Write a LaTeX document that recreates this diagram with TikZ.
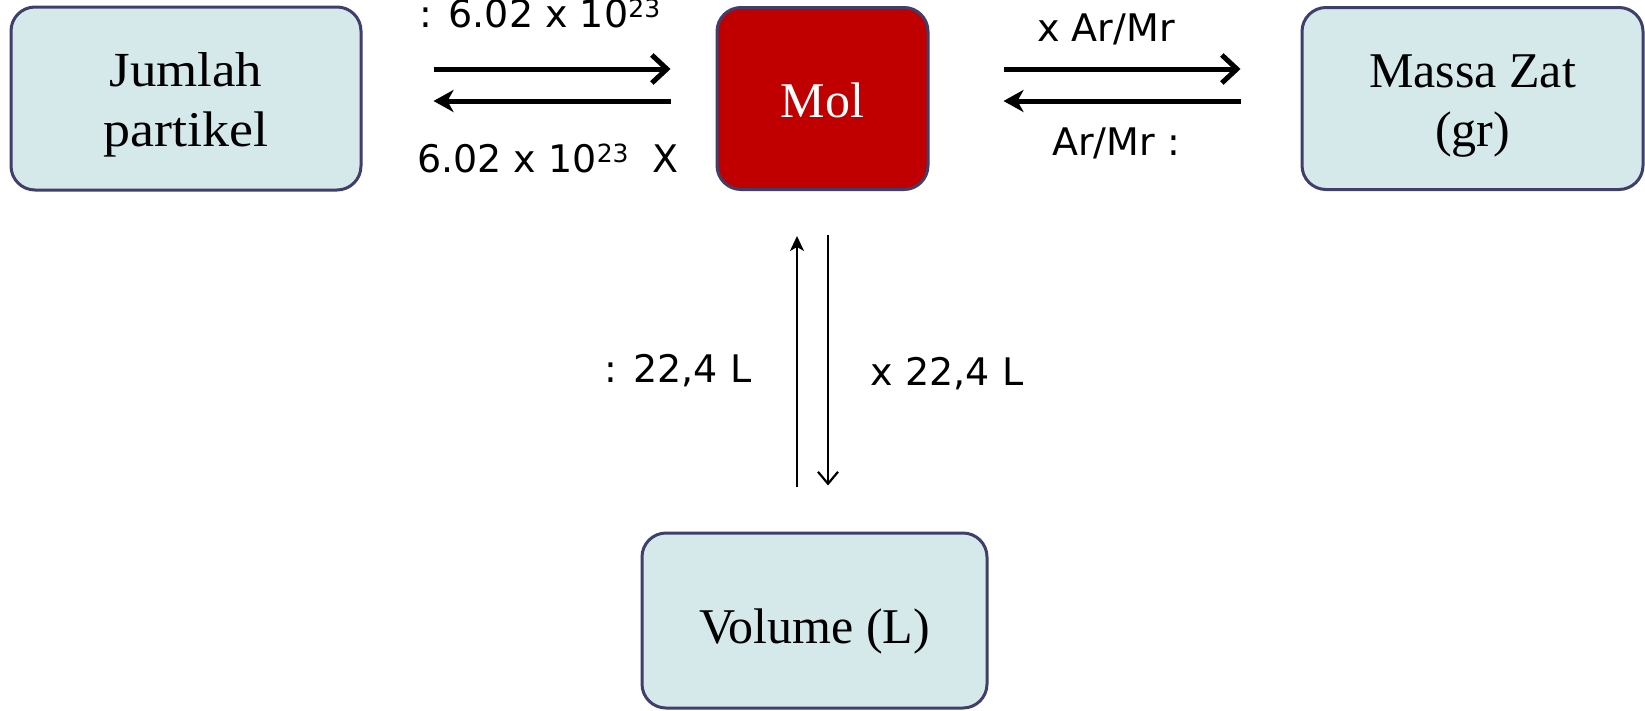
\documentclass[tikz,border=0pt]{standalone}
\usepackage{fontspec}
\setmainfont{Liberation Serif}
\newfontfamily\lblfont{DejaVu Sans}
\usetikzlibrary{arrows.meta}
\definecolor{boxfill}{HTML}{D5E8EA}
\definecolor{boxline}{HTML}{3F3F6B}
\definecolor{molred}{HTML}{C00000}
\newcommand{\supr}[1]{\raisebox{10pt}{\fontsize{25}{25}\selectfont #1}}
\newcommand{\wide}[1]{\scalebox{1.08}[1]{#1}}
\newcommand{\down}[2]{\raisebox{-#1}[\height][\depth]{#2}}
\tikzset{
  box/.style={draw=boxline, line width=3pt, fill=boxfill, rounded corners=24pt,
    align=center, inner sep=0pt, font=\fontsize{50}{59}\selectfont},
  lbl/.style={anchor=base, inner sep=0pt, font=\lblfont\fontsize{38}{44}\selectfont},
  thickR/.style={line width=5pt, -{Straight Barb[length=15pt,width=28pt]}},
  thickL/.style={line width=5pt, -{Stealth[length=20pt,width=22pt,inset=6pt]}},
  thinU/.style={line width=2.2pt, -{Stealth[length=15pt,width=14pt,inset=4pt]}},
  thinD/.style={line width=2.2pt, -{Straight Barb[length=12pt,width=20pt]}},
}
\begin{document}
\begin{tikzpicture}[x=1pt,y=-1pt]
\useasboundingbox (0,0) rectangle (1645,710);
\node[box, minimum width=350pt, minimum height=183pt] (jum) at (186,98.5)
  {\fontsize{49}{55}\selectfont\down{6pt}{\wide{Jumlah}}\\\down{7pt}{\wide{partikel}}};
\node[box, fill=molred, text=white, minimum width=211pt, minimum height=182pt] (mol) at (822.5,98.5) {\down{2pt}{Mol}};
\node[box, minimum width=341pt, minimum height=182pt] (mas) at (1472.5,98.5) {\down{8pt}{Massa Zat}\\\down{8pt}{(gr)}};
\node[box, minimum width=345pt, minimum height=175pt] (vol) at (814.5,620.5) {\down{11pt}{Volume (L)}};
% left arrows
\draw[thickR] ([shift={(71,-29.5)}]jum.east) -- ([shift={(-45,-29.5)}]mol.west);
\draw[thickL] ([shift={(-45,2.5)}]mol.west) -- ([shift={(71,2.5)}]jum.east);
% right arrows
\draw[thickR] ([shift={(74,-29.5)}]mol.east) -- ([shift={(-60,-29.5)}]mas.west);
\draw[thickL] ([shift={(-60,2.5)}]mas.west) -- ([shift={(74,2.5)}]mol.east);
% vertical arrows
\draw[thinU] ([shift={(-17.5,-45)}]vol.north) -- ([shift={(-25.5,45)}]mol.south);
\draw[thinD] ([shift={(5.5,44)}]mol.south) -- ([shift={(13.5,-46)}]vol.north);
% labels
\node[lbl] (l1) at (540,27) {: 6.02 x 10\supr{23}};
\node[lbl] (l2) at (548,172) {6.02 x 10\supr{23}\ \ X};
\node[lbl] (l3) at (1106,41) {x Ar/Mr};
\node[lbl] (l4) at (1116,155) {Ar/Mr :};
\node[lbl] (l5) at (678,382) {: 22,4 L};
\node[lbl] (l6) at (947,385) {x 22,4 L};
\end{tikzpicture}
\end{document}
